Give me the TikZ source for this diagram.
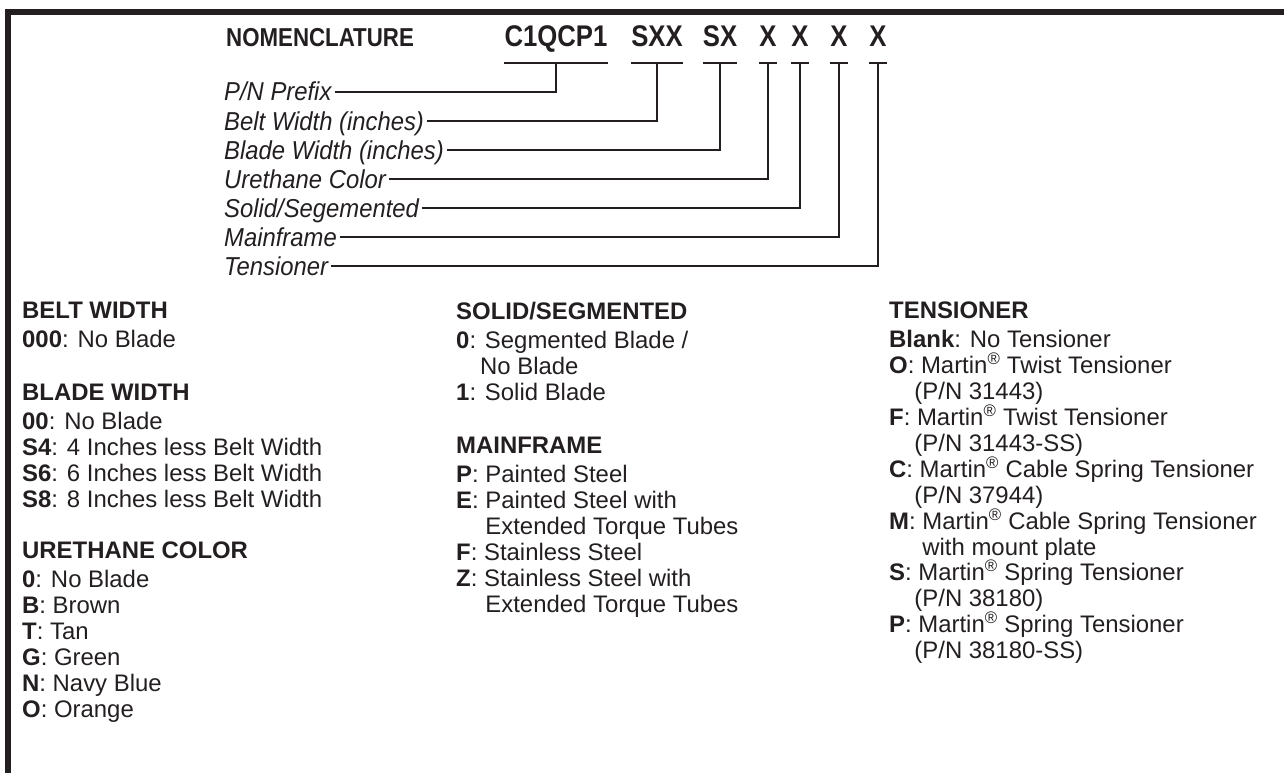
\documentclass[tikz,border=0pt]{standalone}
\usepackage{fontspec}
\setmainfont{Liberation Sans}
\newfontfamily\condfont[FakeStretch=0.86]{Liberation Sans}
\newfontfamily\partfont[FakeStretch=0.92]{Liberation Sans}
\definecolor{ink}{HTML}{231F20}
\newcommand\kw[1]{\textbf{#1}}
\newcommand\reg{\textsuperscript{\textregistered}}

\tikzset{
  section/.style={anchor=north west, inner sep=0pt, align=left,
    font=\fontsize{24}{26}\selectfont},
  title/.style={anchor=south west, inner sep=0pt, text depth=0pt,
    font=\condfont\fontsize{26}{28}\selectfont\bfseries},
  code/.style={anchor=south, inner xsep=0pt, inner ysep=0pt,
    text depth=0pt, font=\condfont\fontsize{30}{32}\selectfont\bfseries},
  part/.style={anchor=west, inner xsep=3bp, inner ysep=0pt, text height=18bp,
    text depth=0pt, font=\partfont\fontsize{26}{28}\selectfont\itshape},
  lead/.style={line width=2.4bp},
  uline/.style={line width=2.8bp}
}

\begin{document}
\begin{tikzpicture}[x=1bp,y=-1bp,color=ink]
\useasboundingbox (0,0) rectangle (1284,773);
\draw[line width=6bp] (8,773) -- (8,12) -- (1284,12);

% part number
\node[title] (nom) at (226,47) {NOMENCLATURE};
\node[code] (cpre) at (556,47) {C1QCP1};
\node[code] (cbelt) at (657,47) {SXX};
\node[code] (cblade) at (720,47) {SX};
\node[code] (ccol) at (768,47) {X};
\node[code] (cseg) at (800,47) {X};
\node[code] (cmain) at (839,47) {X};
\node[code] (cten) at (878,47) {X};

\node[part] (lpre) at (221,92) {P/N Prefix};
\node[part] (lbelt) at (221,121) {Belt Width (inches)};
\node[part] (lblade) at (221,150) {Blade Width (inches)};
\node[part] (lcol) at (221,179) {Urethane Color};
\node[part] (lseg) at (221,208) {Solid/Segemented};
\node[part] (lmain) at (221,237) {Mainframe};
\node[part] (lten) at (221,266) {Tensioner};

\foreach \c in {cpre,cbelt,cblade,ccol,cseg,cmain,cten}
  \draw[uline] ([yshift=-16bp]\c.south west) -- ([yshift=-16bp]\c.south east);

\draw[lead] (lpre.east) -| ([yshift=-16bp]cpre.south);
\draw[lead] (lbelt.east) -| ([yshift=-16bp]cbelt.south);
\draw[lead] (lblade.east) -| ([yshift=-16bp]cblade.south);
\draw[lead] (lcol.east) -| ([yshift=-16bp]ccol.south);
\draw[lead] (lseg.east) -| ([yshift=-16bp]cseg.south);
\draw[lead] (lmain.east) -| ([yshift=-16bp]cmain.south);
\draw[lead] (lten.east) -| ([yshift=-16bp]cten.south);

% option lists
\node[section] (beltw) at (22,302) {\kw{BELT WIDTH}\\[3bp]
  \kw{000}: No Blade};
\node[section] (bladew) at (22,384) {\kw{BLADE WIDTH}\\[3bp]
  \kw{00}: No Blade\\
  \kw{S4}: 4 Inches less Belt Width\\
  \kw{S6}: 6 Inches less Belt Width\\
  \kw{S8}: 8 Inches less Belt Width};
\node[section] (color) at (22,542) {\kw{URETHANE COLOR}\\[3bp]
  \kw{0}: No Blade\\
  \kw{B}: Brown\\
  \kw{T}: Tan\\
  \kw{G}: Green\\
  \kw{N}: Navy Blue\\
  \kw{O}: Orange};
\node[section] (solid) at (456,302) {\kw{SOLID/SEGMENTED}\\[3bp]
  \kw{0}: Segmented Blade /\\
  \phantom{\kw{0}:\,}No Blade\\
  \kw{1}: Solid Blade};
\node[section] (frame) at (456,437) {\kw{MAINFRAME}\\[3bp]
  \kw{P}: Painted Steel\\
  \kw{E}: Painted Steel with\\
  \phantom{\kw{E}: }Extended Torque Tubes\\
  \kw{F}: Stainless Steel\\
  \kw{Z}: Stainless Steel with\\
  \phantom{\kw{E}: }Extended Torque Tubes};
\node[section] (tens) at (889,302) {\kw{TENSIONER}\\[3bp]
  \kw{Blank}: No Tensioner\\
  \kw{O}: Martin\reg{} Twist Tensioner\\
  \phantom{\kw{O}:}(P/N 31443)\\
  \kw{F}: Martin\reg{} Twist Tensioner\\
  \phantom{\kw{O}:}(P/N 31443-SS)\\
  \kw{C}: Martin\reg{} Cable Spring Tensioner\\
  \phantom{\kw{O}:}(P/N 37944)\\
  \kw{M}: Martin\reg{} Cable Spring Tensioner\\
  \phantom{\kw{M}: }with mount plate\\
  \kw{S}: Martin\reg{} Spring Tensioner\\
  \phantom{\kw{O}:}(P/N 38180)\\
  \kw{P}: Martin\reg{} Spring Tensioner\\
  \phantom{\kw{O}:}(P/N 38180-SS)};
\end{tikzpicture}
\end{document}
